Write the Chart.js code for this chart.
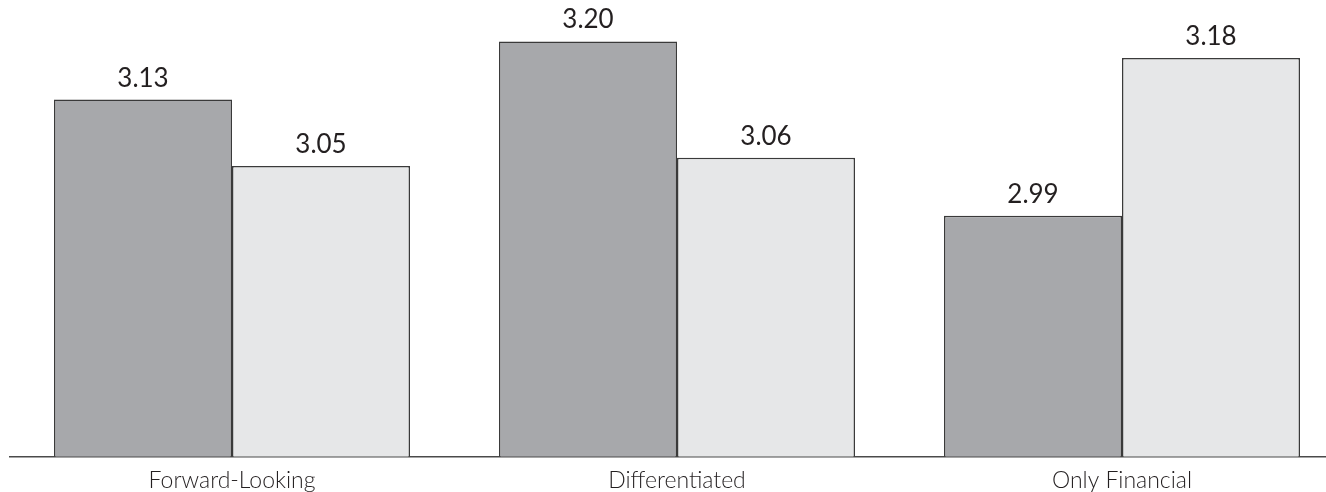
<!DOCTYPE html>
<html>
<head>
<meta charset="utf-8">
<script src="https://cdn.jsdelivr.net/npm/chart.js@4"></script>
<style>
  html, body { margin: 0; padding: 0; background: #fff; overflow: hidden; }
  #wrap { width: 1345px; height: 506px; position: relative; }
</style>
</head>
<body>
<div id="wrap"><canvas id="chart"></canvas></div>
<script>
const categories = ['Forward-Looking', 'Differentiated', 'Only Financial'];
const seriesA = [3.13, 3.20, 2.99];
const seriesB = [3.05, 3.06, 3.18];

// Writes each bar's value just above its top edge
const valueLabels = {
  id: 'valueLabels',
  afterDatasetsDraw(chart) {
    const ctx = chart.ctx;
    ctx.save();
    ctx.font = '400 26px Lato, "Open Sans", sans-serif';
    ctx.fillStyle = '#231f20';
    ctx.textAlign = 'center';
    ctx.textBaseline = 'alphabetic';
    chart.data.datasets.forEach((ds, di) => {
      chart.getDatasetMeta(di).data.forEach((bar, i) => {
        ctx.fillText(ds.data[i].toFixed(2), bar.x, bar.y - 13);
      });
    });
    ctx.restore();
  }
};

new Chart(document.getElementById('chart'), {
  type: 'bar',
  data: {
    labels: categories,
    datasets: [
      {
        data: seriesA,
        backgroundColor: '#a7a8ab',
        borderColor: '#3a3a3a',
        borderWidth: 1.5
      },
      {
        data: seriesB,
        backgroundColor: '#e6e7e8',
        borderColor: '#3a3a3a',
        borderWidth: 1.5
      }
    ]
  },
  options: {
    responsive: true,
    maintainAspectRatio: false,
    animation: false,
    datasets: {
      bar: { categoryPercentage: 0.8, barPercentage: 1.0 }
    },
    layout: { padding: { left: 9.5, right: 0.5, top: 0, bottom: 2 } },
    plugins: {
      legend: { display: false },
      tooltip: { enabled: false }
    },
    scales: {
      x: {
        grid: { display: false, drawTicks: false },
        border: { display: true, color: '#4a4a4a', width: 1.5 },
        ticks: {
          padding: 10,
          color: '#231f20',
          font: { family: 'Lato, "Open Sans", sans-serif', size: 23, weight: '300' }
        }
      },
      y: {
        display: false,
        min: 2.7,
        max: 3.25
      }
    }
  },
  plugins: [valueLabels]
});
</script>
</body>
</html>
